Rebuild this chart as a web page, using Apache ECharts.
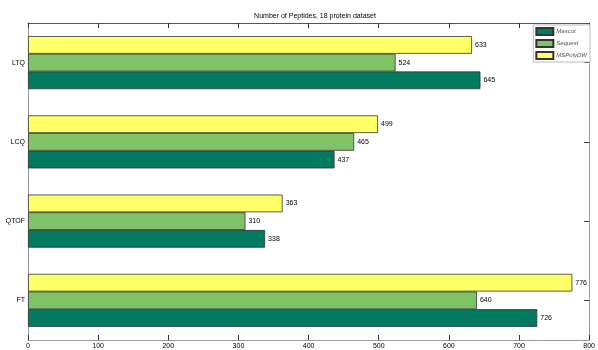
<!DOCTYPE html>
<html>
<head>
<meta charset="utf-8">
<script src="https://cdn.jsdelivr.net/npm/echarts@6/dist/echarts.min.js"></script>
<style>
  html, body { margin: 0; padding: 0; background: #fff; }
  #chart { width: 598px; height: 350px; }
</style>
</head>
<body>
<div id="chart"></div>
<script>
// Instruments, listed bottom to top on the category axis
const categories = ['FT', 'QTOF', 'LCQ', 'LTQ'];
// Peptide counts per search engine
const mascot = [726, 338, 437, 645];
const sequest = [640, 310, 465, 524];
const mspolydw = [776, 363, 499, 633];
const xTicks = [0, 100, 200, 300, 400, 500, 600, 700, 800];

const FONT = 'Liberation Sans, Arial, sans-serif';

const labelStyle = {
  show: true,
  position: 'right',
  distance: 3,
  fontFamily: FONT,
  fontSize: 7,
  color: '#000'
};

function barSeries(name, data, color) {
  return {
    name: name,
    type: 'bar',
    data: data,
    barGap: '0%',
    barCategoryGap: '33%',
    itemStyle: { color: color, borderColor: '#333', borderWidth: 0.8 },
    label: labelStyle
  };
}

const chart = echarts.init(document.getElementById('chart'));
chart.setOption({
  animation: false,
  title: {
    text: 'Number of Peptides, 18 protein dataset',
    left: 310,
    textAlign: 'center',
    top: 8,
    textStyle: { fontFamily: FONT, fontSize: 7, fontWeight: 'normal', color: '#000' }
  },
  legend: {
    data: ['Mascot', 'Sequest', 'MSPolyDW'],
    icon: 'rect',
    orient: 'vertical',
    right: 8,
    top: 25,
    itemWidth: 17,
    itemHeight: 7,
    itemGap: 3,
    padding: [2, 3, 2, 2],
    backgroundColor: '#fff',
    borderColor: '#bbb',
    borderWidth: 1,
    textStyle: { fontFamily: FONT, fontSize: 6, fontStyle: 'italic', color: '#555', padding: [0, 0, 0, -2] }
  },
  grid: { left: 28, right: 7, top: 23, bottom: 9 },
  xAxis: [{
    type: 'value',
    min: 0, max: 800, interval: 100,
    position: 'bottom',
    axisLine: { show: true, lineStyle: { color: '#999' } },
    axisTick: { show: true, inside: true, length: 5, lineStyle: { color: '#333' } },
    axisLabel: { fontFamily: FONT, fontSize: 7, color: '#000', margin: 3,
      formatter: v => xTicks.includes(v) ? String(v) : '' },
    splitLine: { show: false }
  }, {
    type: 'value',
    min: 0, max: 800, interval: 100,
    position: 'top',
    axisLine: { show: true, lineStyle: { color: '#555' } },
    axisTick: { show: true, inside: true, length: 5, lineStyle: { color: '#333' } },
    axisLabel: { show: false },
    splitLine: { show: false }
  }],
  yAxis: [{
    type: 'category',
    data: categories,
    position: 'left',
    axisLine: { show: true, onZero: false, lineStyle: { color: '#999' } },
    axisTick: { show: false },
    axisLabel: { fontFamily: FONT, fontSize: 7, color: '#000', margin: 3 }
  }, {
    type: 'category',
    data: categories,
    position: 'right',
    axisLine: { show: true, onZero: false, lineStyle: { color: '#999' } },
    axisTick: { show: true, inside: true, alignWithLabel: true, length: 5, lineStyle: { color: '#333' } },
    axisLabel: { show: false }
  }],
  series: [
    barSeries('MSPolyDW', mspolydw, '#ffff66'),
    barSeries('Sequest', sequest, '#80c266'),
    barSeries('Mascot', mascot, '#007b60')
  ]
});
</script>
</body>
</html>
